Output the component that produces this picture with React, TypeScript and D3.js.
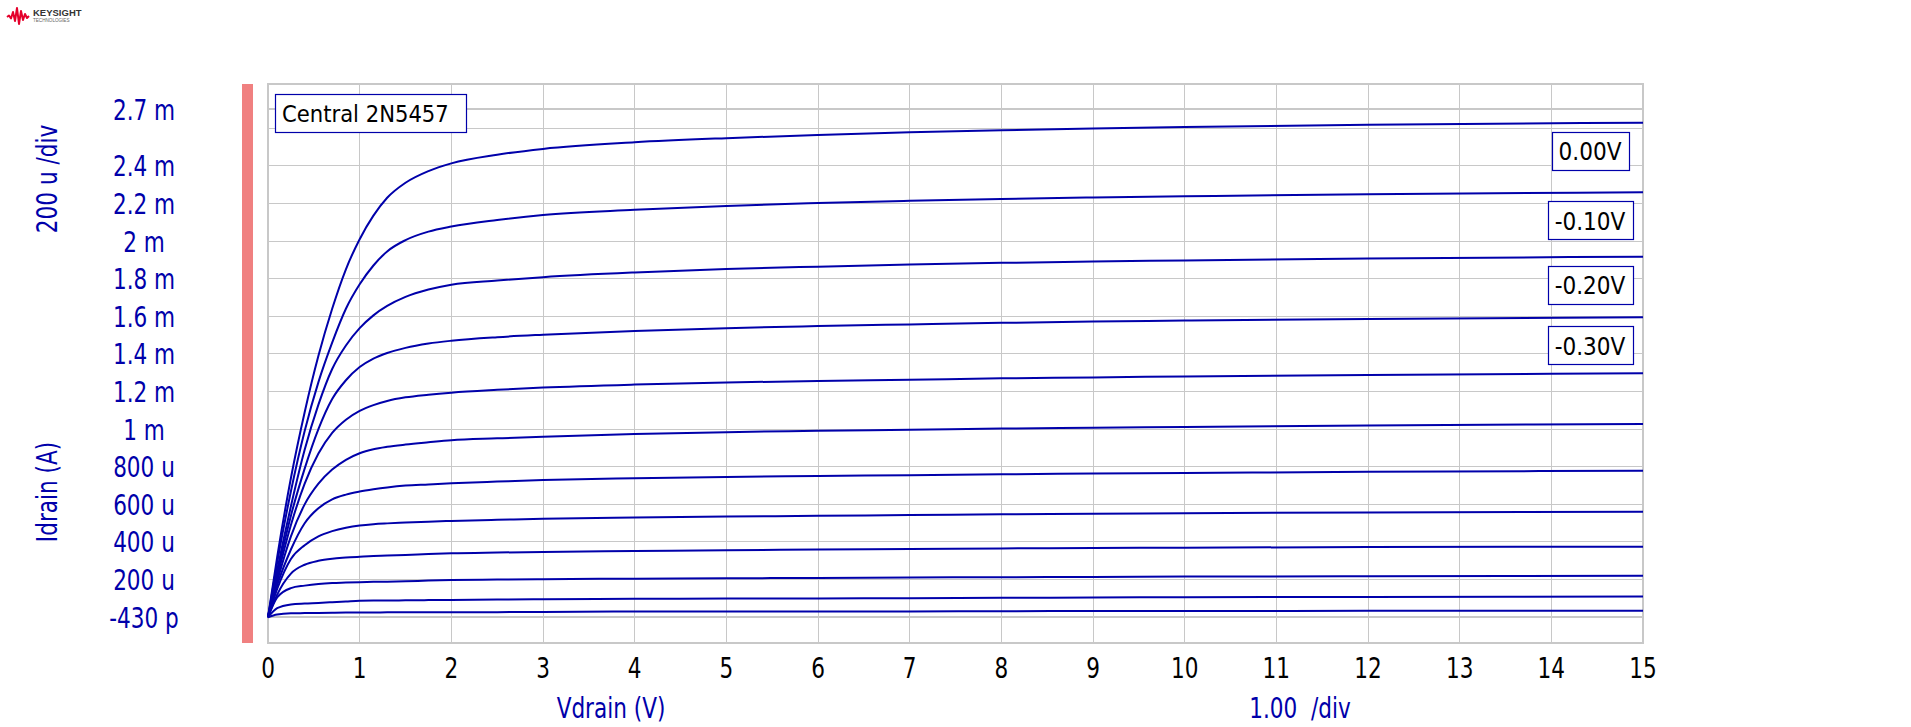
import React, { useEffect, useRef } from "react";
import * as d3 from "d3";

// Drain voltage sample points (V)
const vdrain = [0, 0.1, 0.25, 0.4, 0.55, 0.7, 0.85, 1.0, 1.15, 1.3, 1.5, 1.75, 2, 2.5, 3, 4, 5, 6, 7, 8, 9, 10, 12, 15];

// Drain current (mA) for each gate-voltage step
const id_g0 = [0, 0.32, 0.74, 1.09, 1.39, 1.64, 1.85, 2.01, 2.135, 2.23, 2.31, 2.372, 2.413, 2.459, 2.490, 2.525, 2.547, 2.564, 2.578, 2.589, 2.598, 2.606, 2.618, 2.629];
const id_g1 = [0, 0.29, 0.67, 0.99, 1.25, 1.46, 1.64, 1.77, 1.87, 1.945, 2.005, 2.05, 2.077, 2.112, 2.139, 2.166, 2.187, 2.202, 2.214, 2.224, 2.232, 2.238, 2.249, 2.259];
const id_g2 = [0, 0.25, 0.59, 0.89, 1.13, 1.32, 1.445, 1.537, 1.605, 1.655, 1.703, 1.742, 1.768, 1.790, 1.808, 1.833, 1.851, 1.864, 1.875, 1.884, 1.891, 1.897, 1.907, 1.917];
const id_g3 = [0, 0.23, 0.54, 0.79, 1.00, 1.16, 1.26, 1.33, 1.375, 1.405, 1.432, 1.455, 1.470, 1.489, 1.502, 1.522, 1.537, 1.548, 1.557, 1.565, 1.572, 1.577, 1.586, 1.595];
const id_g4 = [0, 0.21, 0.49, 0.71, 0.87, 0.98, 1.05, 1.097, 1.128, 1.15, 1.169, 1.183, 1.194, 1.209, 1.221, 1.237, 1.248, 1.256, 1.263, 1.270, 1.275, 1.280, 1.288, 1.297];
const id_g5 = [0, 0.19, 0.43, 0.60, 0.71, 0.785, 0.837, 0.872, 0.893, 0.906, 0.918, 0.930, 0.941, 0.951, 0.960, 0.974, 0.984, 0.991, 0.997, 1.003, 1.008, 1.012, 1.019, 1.028];
const id_g6 = [0, 0.17, 0.36, 0.50, 0.58, 0.627, 0.652, 0.668, 0.68, 0.69, 0.70, 0.706, 0.712, 0.721, 0.729, 0.739, 0.746, 0.751, 0.755, 0.760, 0.764, 0.767, 0.773, 0.779];
const id_g7 = [0, 0.15, 0.31, 0.383, 0.43, 0.458, 0.476, 0.488, 0.495, 0.499, 0.503, 0.508, 0.512, 0.518, 0.523, 0.530, 0.535, 0.539, 0.543, 0.547, 0.550, 0.553, 0.557, 0.561];
const id_g8 = [0, 0.12, 0.232, 0.279, 0.30, 0.311, 0.317, 0.322, 0.325, 0.328, 0.331, 0.336, 0.340, 0.344, 0.347, 0.352, 0.356, 0.360, 0.363, 0.366, 0.368, 0.370, 0.373, 0.375];
const id_g9 = [0, 0.105, 0.155, 0.168, 0.177, 0.182, 0.184, 0.186, 0.188, 0.189, 0.191, 0.195, 0.198, 0.200, 0.202, 0.205, 0.207, 0.209, 0.211, 0.213, 0.214, 0.216, 0.218, 0.221];
const id_g10 = [0, 0.048, 0.068, 0.073, 0.076, 0.080, 0.084, 0.088, 0.089, 0.089, 0.090, 0.091, 0.092, 0.094, 0.096, 0.098, 0.099, 0.100, 0.101, 0.103, 0.105, 0.106, 0.108, 0.110];
const id_g11 = [0, 0.015, 0.021, 0.022, 0.023, 0.024, 0.0245, 0.025, 0.025, 0.026, 0.026, 0.027, 0.027, 0.027, 0.028, 0.030, 0.030, 0.031, 0.031, 0.032, 0.033, 0.033, 0.034, 0.035];

const seriesValues = [id_g0, id_g1, id_g2, id_g3, id_g4, id_g5, id_g6, id_g7, id_g8, id_g9, id_g10, id_g11];
const seriesLabels = ["0.00V", "-0.10V", "-0.20V", "-0.30V"];

const xTicks = [0, 1, 2, 3, 4, 5, 6, 7, 8, 9, 10, 11, 12, 13, 14, 15];
const yTickValues = [0, 0.2, 0.4, 0.6, 0.8, 1.0, 1.2, 1.4, 1.6, 1.8, 2.0, 2.2, 2.4, 2.7];
const yTickLabels = ["-430 p", "200 u", "400 u", "600 u", "800 u", "1 m", "1.2 m", "1.4 m", "1.6 m", "1.8 m", "2 m", "2.2 m", "2.4 m", "2.7 m"];
const yGridValues = [0, 0.2, 0.4, 0.6, 0.8, 1.0, 1.2, 1.4, 1.6, 1.8, 2.0, 2.2, 2.4, 2.6, 2.7];

const title = "Central 2N5457";
const xTitle = "Vdrain (V)";
const xScaleText = "1.00  /div";
const yTitle = "Idrain (A)";
const yScaleText = "200 u /div";

export default function App() {
  const ref = useRef<SVGSVGElement>(null);

  useEffect(() => {
    const svg = d3.select(ref.current);
    svg.selectAll("*").remove();

    const FONT = "'DejaVu Sans Condensed', 'DejaVu Sans', sans-serif";
    const BLUE = "#0000AA";
    const GRID = "#C8C8C8";
    const L = 268, R = 1643, T = 84, B = 643;

    const x = d3.scaleLinear().domain([0, 15]).range([L, R]);
    const y = d3.scaleLinear().domain([-0.137, 2.835]).range([B, T]);

    const stext = (
      parent: any, tx: number, ty: number, str: string, anchor: string,
      size: number, fill: string, sy = 1.2, rot = 0
    ) =>
      parent.append("text")
        .attr("transform", `translate(${tx},${ty}) rotate(${rot}) scale(1,${sy})`)
        .attr("text-anchor", anchor)
        .attr("font-family", FONT)
        .attr("font-size", size)
        .attr("fill", fill)
        .style("white-space", "pre")
        .text(str);

    // Logo
    const logo = svg.append("g");
    logo.append("path")
      .attr("d", "M7,17 L9,15.5 L11,18.5 L13,12 L15,21 L17,8 L19,24 L21,11 L23,20 L25,14 L27,18 L29,16")
      .attr("fill", "none").attr("stroke", "#E4002B").attr("stroke-width", 2).attr("stroke-linejoin", "round");
    logo.append("text").attr("x", 33).attr("y", 16).attr("font-family", "Liberation Sans, Arial, sans-serif")
      .attr("font-weight", "bold").attr("font-size", 9.5).attr("fill", "#333").text("KEYSIGHT");
    logo.append("text").attr("x", 33).attr("y", 22).attr("font-family", "Liberation Sans, Arial, sans-serif")
      .attr("font-size", 4.6).attr("fill", "#666").text("TECHNOLOGIES");

    // Pink bar
    svg.append("rect").attr("x", 242).attr("y", T).attr("width", 11).attr("height", B - T).attr("fill", "#F08080");

    // Grid
    const grid = svg.append("g").attr("shape-rendering", "crispEdges");
    grid.selectAll("line.v").data(xTicks).join("line")
      .attr("x1", (d: number) => x(d)).attr("x2", (d: number) => x(d))
      .attr("y1", T).attr("y2", B)
      .attr("stroke", GRID).attr("stroke-width", (d: number) => (d === 0 ? 2 : 1));
    grid.selectAll("line.h").data(yGridValues).join("line")
      .attr("x1", L).attr("x2", R)
      .attr("y1", (d: number) => y(d)).attr("y2", (d: number) => y(d))
      .attr("stroke", GRID).attr("stroke-width", (d: number) => (d === 0 || d === 2.7 ? 2 : 1));
    grid.append("rect").attr("x", L).attr("y", T).attr("width", R - L).attr("height", B - T)
      .attr("fill", "none").attr("stroke", GRID).attr("stroke-width", 1.5);

    // Curves
    const line = d3.line<number>()
      .x((_d: number, i: number) => x(vdrain[i]))
      .y((d: number) => y(d))
      .curve(d3.curveMonotoneX);
    svg.append("g").selectAll("path").data(seriesValues).join("path")
      .attr("d", (d: number[]) => line(d))
      .attr("fill", "none").attr("stroke", BLUE).attr("stroke-width", 2)
      .attr("stroke-linejoin", "round");

    // Y tick labels
    yTickValues.forEach((v, i) => stext(svg, 144, y(v) + 10.5, yTickLabels[i], "middle", 24, BLUE));
    // X tick labels
    xTicks.forEach((v) => stext(svg, x(v), 677.5, String(v), "middle", 24, "#000"));

    // Axis titles
    stext(svg, 611, 718, xTitle, "middle", 24, BLUE);
    stext(svg, 1300, 718, xScaleText, "middle", 24, BLUE);
    stext(svg, 57, 492, yTitle, "middle", 24, BLUE, 1.2, -90);
    stext(svg, 57, 179, yScaleText, "middle", 24, BLUE, 1.2, -90);

    // Title box
    const tg = svg.append("g");
    tg.append("rect").attr("x", 275.5).attr("y", 94.5).attr("width", 191).attr("height", 38)
      .attr("fill", "#fff").attr("stroke", BLUE).attr("stroke-width", 1.2);
    tg.append("text").attr("x", 282).attr("y", 121.5).attr("font-family", FONT).attr("font-size", 23.5)
      .attr("fill", "#000").text(title);

    // Gate voltage labels
    seriesLabels.forEach((lab, i) => {
      const vals = seriesValues[i];
      const top = y(vals[vals.length - 1]) + 9;
      const g = svg.append("g");
      const rect = g.append("rect");
      const t = g.append("text").attr("x", 1590).attr("y", top + 28.5).attr("text-anchor", "middle")
        .attr("font-family", FONT).attr("font-size", 24).attr("fill", "#000").text(lab);
      const w = (t.node() as SVGTextElement).getComputedTextLength();
      rect.attr("x", Math.round(1590 - w / 2 - 7) + 0.5).attr("y", Math.round(top) + 0.5)
        .attr("width", Math.round(w + 14)).attr("height", 38)
        .attr("fill", "#fff").attr("stroke", BLUE).attr("stroke-width", 1.2);
    });
  }, []);

  return (
    <svg
      ref={ref}
      width={1911}
      height={727}
      style={{ position: "absolute", left: 0, top: 0, background: "#fff" }}
    />
  );
}
